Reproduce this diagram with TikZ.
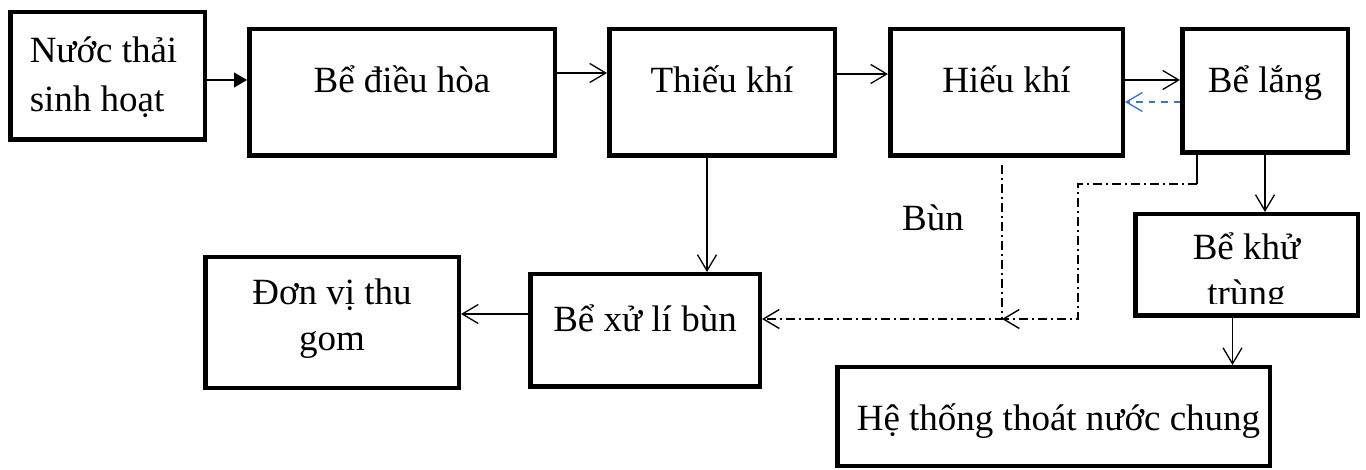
\documentclass[tikz,border=0pt]{standalone}
\usepackage{fontspec}
\setmainfont{Liberation Serif}
\usetikzlibrary{arrows.meta}
\definecolor{wordblue}{RGB}{68,114,196}
\begin{document}
\begin{tikzpicture}[x=1pt,y=-1pt,
  bx/.style={draw, line width=4.5pt, inner sep=0pt, outer sep=0pt, anchor=north west,
    font=\fontsize{37}{49}\selectfont},
  conn/.style={line width=1.3pt, -{Straight Barb[length=16pt,width=19pt]},
    shorten >=2.25pt, shorten <=2.25pt},
  tri/.style={line width=1.3pt, -{Triangle[length=13pt,width=15pt]},
    shorten >=2.25pt, shorten <=2.25pt},
  blueback/.style={conn, draw=wordblue, line width=1.4pt, dash pattern=on 6.5pt off 6pt},
  dashdot/.style={line width=1.4pt, dash pattern=on 9pt off 4pt on 2pt off 4pt},
  lbl/.style={anchor=base west, inner sep=0pt, font=\fontsize{37}{49}\selectfont}
]
\useasboundingbox (0,0) rectangle (1366,470);

% boxes
\node[bx, minimum width=194.5pt, text height=50.75pt, text depth=76.75pt] (b1) at (10.25,12.25)
  {\begin{tabular}[t]{@{}l@{\hspace{8pt}}}Nước thải\\sinh hoạt\end{tabular}};
\node[bx, minimum width=305.5pt, text height=63.75pt, text depth=62.75pt] (b2) at (249.25,29.25) {Bể điều hòa};
\node[bx, minimum width=225.5pt, text height=63.75pt, text depth=62.75pt] (b3) at (609.25,29.25) {Thiếu khí};
\node[bx, minimum width=232.5pt, text height=63.75pt, text depth=62.75pt] (b4) at (890.25,29.25) {Hiếu khí};
\node[bx, minimum width=165.5pt, text height=63.75pt, text depth=59.75pt] (b5) at (1182.25,29.25) {Bể lắng};
\begin{scope}
  \clip (0,0) rectangle (1366,304);
  \node[bx, minimum width=222.5pt, text height=45.75pt, text depth=55.75pt,
        font=\fontsize{37}{46}\selectfont] (b6) at (1135.25,214.25)
    {\begin{tabular}[t]{@{}c@{}}Bể khử\\trùng\end{tabular}};
\end{scope}
\draw[line width=4.5pt] (b6.north west) rectangle (b6.south east);
\node[bx, minimum width=432.5pt, text height=59.75pt, text depth=38.75pt] (b7) at (837.25,367.25)
  {\begin{tabular}{@{\hspace{10pt}}c@{}}Hệ thống thoát nước chung\end{tabular}};
\node[bx, minimum width=229.5pt, text height=57.75pt, text depth=54.75pt] (b8) at (530.25,274.25) {Bể xử lí bùn};
\node[bx, minimum width=253.5pt, text height=47.75pt, text depth=82.75pt,
      font=\fontsize{37}{46}\selectfont] (b9) at (205.25,257.25)
  {\begin{tabular}[t]{@{}c@{}}Đơn vị thu\\gom\end{tabular}};

\node[lbl] (bun) at (902,231) {Bùn};

% top row connectors
\coordinate (a1) at ([yshift=-4pt]b1.east);
\draw[tri] (a1) -- (a1 -| b2.west);
\coordinate (a2) at ([yshift=19.5pt]b2.east);
\draw[conn] (a2) -- (a2 -| b3.west);
\coordinate (a3) at ([yshift=18.5pt]b3.east);
\draw[conn] (a3) -- (a3 -| b4.west);
\coordinate (a4) at ([yshift=12.5pt]b4.east);
\draw[conn] (a4) -- (a4 -| b5.west);
\coordinate (ab) at ([yshift=-11pt]b5.west);
\draw[blueback] (ab) -- (ab -| b4.east);

% vertical connectors
\coordinate (a5) at ([xshift=-15pt]b3.south);
\draw[conn] (a5) -- (a5 |- b8.north);
\coordinate (a6) at ([yshift=16.5pt]b8.west);
\draw[conn] (a6) -- (a6 -| b9.east);
\draw[conn] (b5.south) -- (b5.south |- b6.north);
\coordinate (a8) at ([xshift=-14pt]b6.south);
\draw[conn] (a8) -- (a8 |- b7.north);

% sludge lines (dash-dot)
\coordinate (j) at ([yshift=11.5pt]b8.east);
\coordinate (c1) at ([xshift=-4.5pt,yshift=-9.25pt]b4.south);
\draw[dashdot, -{Straight Barb[length=16pt,width=19pt]}, shorten >=2.25pt]
  (c1) -- (c1 |- j) -- (j);
\coordinate (d0) at ([xshift=-68pt]b5.south);
\coordinate (d1) at ([yshift=-31.25pt]d0);
\coordinate (d2) at ([xshift=-119pt]d1);
\draw[line width=1.4pt, shorten <=2.25pt] (d0) -- (d1);
\draw[dashdot, -{Straight Barb[length=16pt,width=19pt]}]
  (d1) -- (d2) -- (d2 |- j) -- (c1 |- j);
\end{tikzpicture}
\end{document}
